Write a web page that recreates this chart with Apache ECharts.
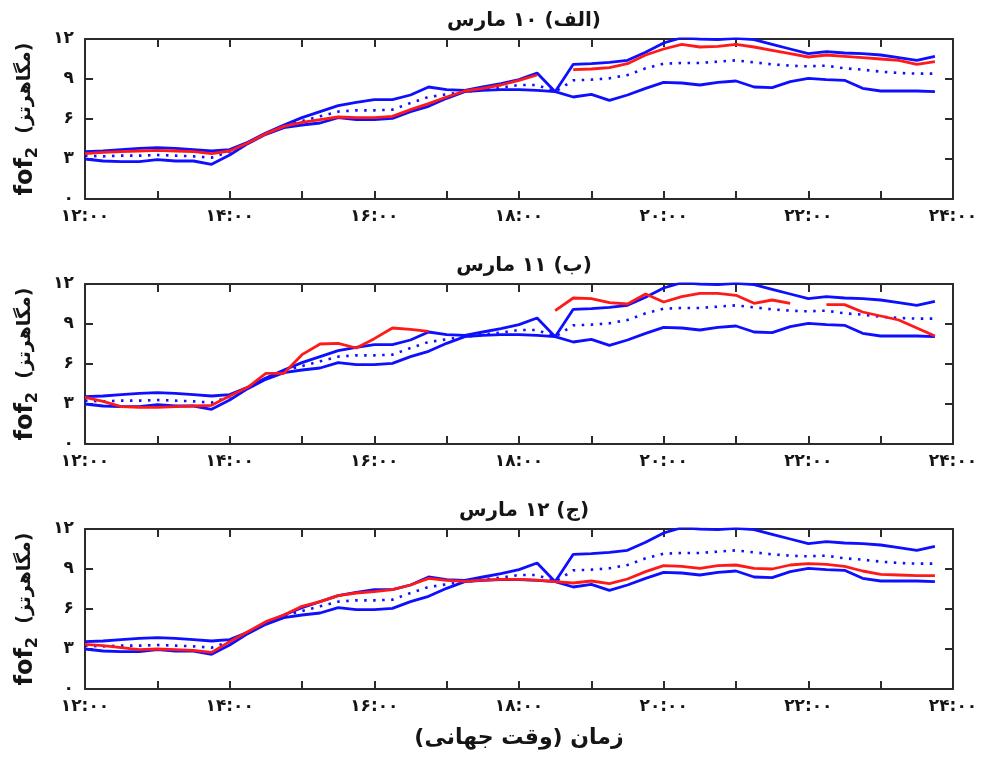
<!DOCTYPE html>
<html><head><meta charset="utf-8">
<script src="https://cdn.jsdelivr.net/npm/echarts@6/dist/echarts.min.js"></script>
<style>html,body{margin:0;padding:0;background:#fff}#c{width:987px;height:760px}</style>
</head><body><div id="c"></div>
<script>
// time grid: 15-minute steps from 12:00 to 23:45 UT
const hours = Array.from({length: 48}, (_, i) => 12 + i / 4);

// panel titles
const titles = ['\u200F(الف) ۱۰ مارس\u200F', '\u200F(ب) ۱۱ مارس\u200F', '\u200F(ج) ۱۲ مارس\u200F'];

// envelope (upper / lower bound) and median (dotted), same in all panels
const upper = [3.55,3.6,3.7,3.8,3.85,3.8,3.7,3.6,3.7,4.25,4.95,5.55,6.1,6.55,7.0,7.25,
  7.45,7.45,7.8,8.4,8.2,8.15,8.4,8.65,8.95,9.45,8.05,10.1,10.15,10.25,10.4,11.0,
  11.7,12.1,12.0,11.95,12.05,11.95,11.6,11.25,10.9,11.05,10.95,10.9,10.8,10.6,10.4,10.7];
const lower = [3.0,2.85,2.8,2.8,2.95,2.85,2.85,2.6,3.3,4.15,4.85,5.35,5.55,5.7,6.1,5.95,
  5.95,6.05,6.55,6.95,7.55,8.05,8.15,8.2,8.2,8.15,8.05,7.65,7.85,7.4,7.8,8.3,
  8.75,8.7,8.55,8.75,8.85,8.4,8.35,8.8,9.05,8.95,8.9,8.3,8.1,8.1,8.1,8.05];
const median = [3.25,3.2,3.25,3.25,3.3,3.25,3.2,3.1,3.55,4.2,4.9,5.5,5.85,6.2,6.55,6.65,
  6.65,6.7,7.2,7.65,7.85,8.05,8.2,8.35,8.55,8.55,8.05,8.9,8.95,9.05,9.3,9.8,
  10.15,10.2,10.2,10.3,10.4,10.25,10.1,10.0,9.95,10.0,9.8,9.7,9.55,9.45,9.4,9.4];

// observed foF2 (red) for each day
const obs10 = [3.4,3.5,3.55,3.6,3.65,3.6,3.55,3.4,3.6,4.2,4.9,5.45,5.75,5.95,6.15,6.1,
  6.1,6.2,6.7,7.15,7.65,8.1,8.3,8.55,8.9,9.3,null,9.7,9.75,9.85,10.15,10.8,
  11.25,11.6,11.4,11.45,11.6,11.4,11.15,10.9,10.65,10.8,10.7,10.6,10.5,10.4,10.1,10.3];
const obs11 = [3.5,3.2,2.8,2.75,2.75,2.8,2.85,2.9,3.6,4.25,5.3,5.3,6.7,7.5,7.55,7.2,
  7.9,8.7,8.6,8.45,null,null,null,null,null,null,10.0,10.95,10.9,10.6,10.5,11.25,
  10.65,11.05,11.3,11.3,11.15,10.55,10.8,10.55,null,10.45,10.45,9.9,9.6,9.3,8.7,8.1];
const obs12 = [3.35,3.25,3.1,2.95,3.0,2.95,2.9,2.75,3.55,4.3,5.05,5.55,6.2,6.55,7.0,7.2,
  7.3,7.45,7.8,8.3,8.15,8.07,8.17,8.22,8.22,8.17,8.05,7.95,8.1,7.9,8.25,8.8,
  9.25,9.2,9.05,9.25,9.3,9.05,9.0,9.3,9.4,9.35,9.2,8.85,8.6,8.55,8.5,8.5];
const observed = [obs10, obs11, obs12];

// axis ticks
const yTicks = [0, 3, 6, 9, 12];

const FONT = 'DejaVu Sans';
const fa = s => String(s).replace(/[0-9]/g, d => '۰۱۲۳۴۵۶۷۸۹'[d]);
const pair = arr => arr.map((v, i) => [hours[i], v]);

const gridTops = [39, 284, 529];
const grid = [], xAxis = [], yAxis = [], series = [], title = [];
const AX = '#2b2b2b';
const TXT = '#151515';

gridTops.forEach((top, g) => {
  grid.push({left: 85, right: 34, top: top, height: 160});
  title.push({text: titles[g], left: 519, textAlign: 'center', top: top - 33,
    textStyle: {fontFamily: FONT, fontSize: 20, fontWeight: 'bold', color: TXT}});
  const common = {type: 'value', min: 12, max: 24, interval: 1, gridIndex: g,
    axisLine: {show: true, onZero: false, lineStyle: {color: AX, width: 2}},
    axisTick: {show: true, inside: true, length: 8, lineStyle: {color: AX, width: 2}},
    splitLine: {show: false}};
  xAxis.push(Object.assign({}, common, {position: 'bottom',
    axisLabel: {show: true, margin: 9, fontFamily: FONT, fontSize: 17, fontWeight: 'bold', color: TXT,
      showMinLabel: true, showMaxLabel: true,
      formatter: v => (v % 2 === 0 ? fa(v) + ':۰۰' : '')},
    name: g === 2 ? '\u200Fزمان (وقت جهانی)\u200F' : '', nameLocation: 'middle', nameGap: 38,
    nameTextStyle: {fontFamily: FONT, fontSize: 22, fontWeight: 'bold', color: TXT}}));
  xAxis.push(Object.assign({}, common, {position: 'top', axisLabel: {show: false}}));
  const ycommon = {type: 'value', min: yTicks[0], max: yTicks[yTicks.length - 1], interval: 3, gridIndex: g,
    axisLine: {show: true, onZero: false, lineStyle: {color: AX, width: 2}},
    axisTick: {show: true, inside: true, length: 8, lineStyle: {color: AX, width: 2}},
    splitLine: {show: false}};
  yAxis.push(Object.assign({}, ycommon, {position: 'left',
    axisLabel: {show: true, margin: 11, fontFamily: FONT, fontSize: 17, fontWeight: 'bold', color: TXT,
      formatter: v => fa(v)},
    name: '{a|fof}{b|2}{c|  (مگاهرتز)}', nameLocation: 'middle', nameGap: 44,
    nameTextStyle: {fontFamily: FONT, fontWeight: 'bold', color: TXT,
      rich: {a: {fontFamily: FONT, fontSize: 24, fontWeight: 'bold', color: TXT},
             b: {fontFamily: FONT, fontSize: 16, fontWeight: 'bold', color: TXT, padding: [15, 0, 0, 0]},
             c: {fontFamily: FONT, fontSize: 19, fontWeight: 'bold', color: TXT}}}}));
  yAxis.push(Object.assign({}, ycommon, {position: 'right', axisLabel: {show: false}}));

  const xi = 2 * g, yi = 2 * g;
  const base = {type: 'line', xAxisIndex: xi, yAxisIndex: yi, showSymbol: false, symbol: 'none',
    clip: true, animation: false, connectNulls: false};
  series.push(Object.assign({}, base, {name: 'upper', data: pair(upper),
    lineStyle: {color: '#0f0fff', width: 2.8}}));
  series.push(Object.assign({}, base, {name: 'lower', data: pair(lower),
    lineStyle: {color: '#0f0fff', width: 2.8}}));
  series.push(Object.assign({}, base, {name: 'median', data: pair(median),
    lineStyle: {color: '#0f0fff', width: 2.6, type: [2.5, 6.5]}}));
  series.push(Object.assign({}, base, {name: 'obs', data: pair(observed[g]),
    lineStyle: {color: '#ff1a1a', width: 2.8}}));
});

const chart = echarts.init(document.getElementById('c'), null, {renderer: 'canvas'});
chart.setOption({animation: false, backgroundColor: '#fff', title, grid, xAxis, yAxis, series});
</script></body></html>
